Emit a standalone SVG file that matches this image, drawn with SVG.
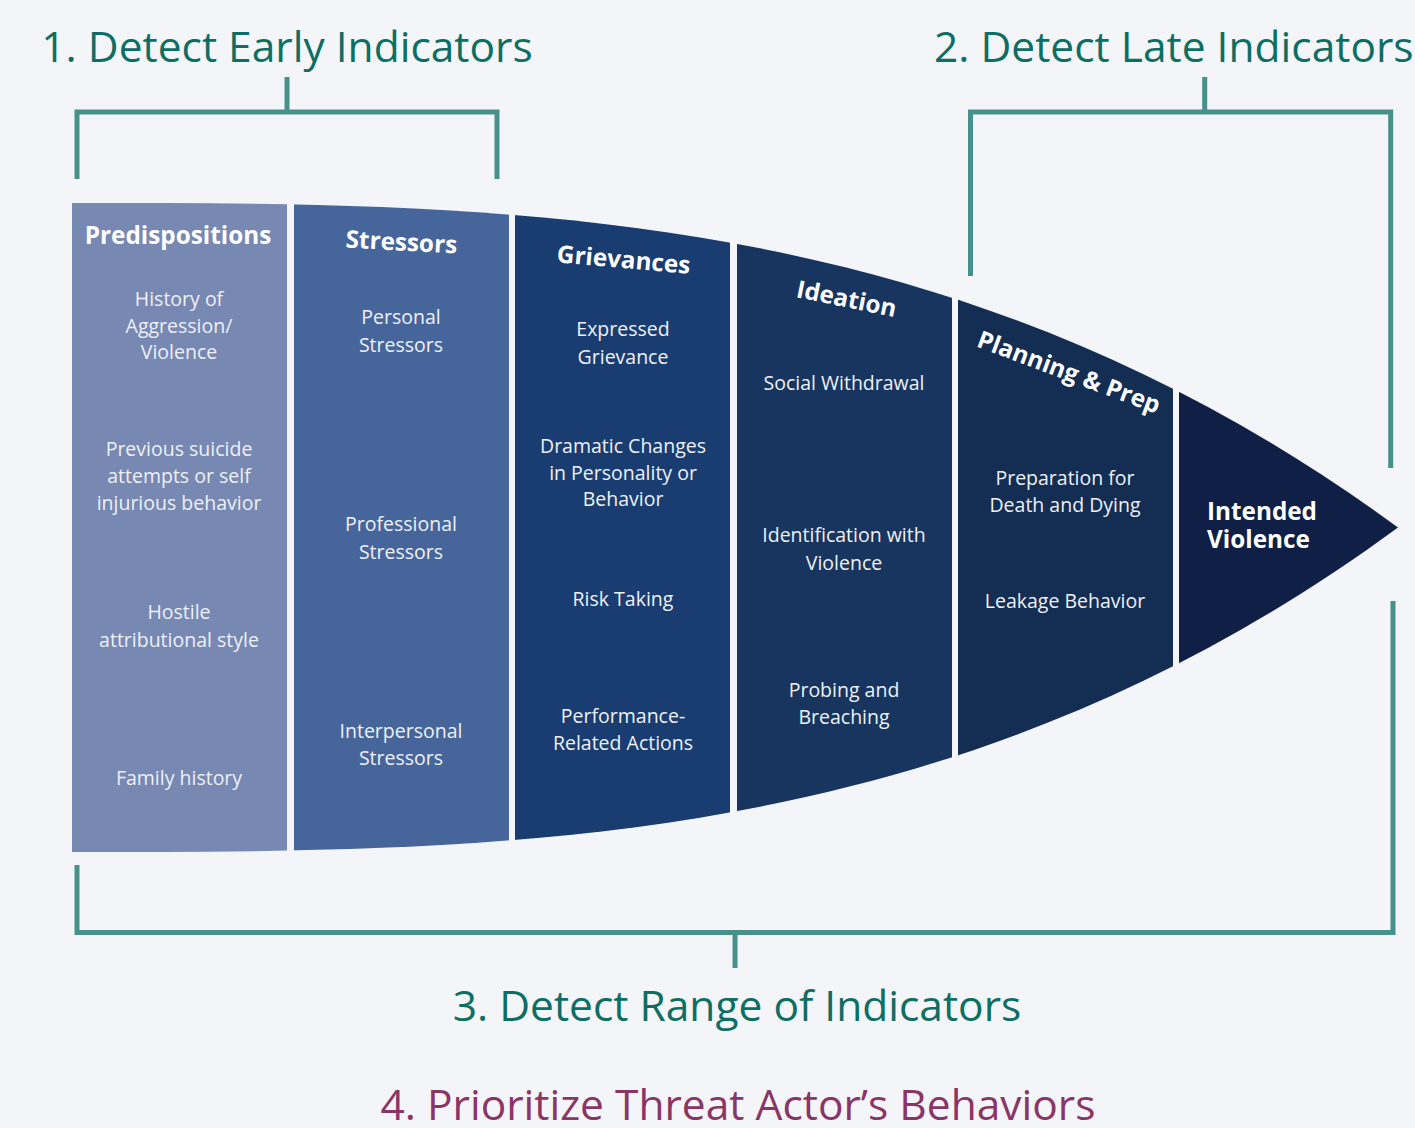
<svg xmlns="http://www.w3.org/2000/svg" width="1415" height="1128" viewBox="0 0 1415 1128">
<style>
.title{font-family:"Open Sans","Liberation Sans",sans-serif;font-size:42.5px;fill:#0e6e63}
.t4{fill:#8b3566}
.hd{font-family:"Open Sans","Liberation Sans",sans-serif;font-size:24.3px;font-weight:bold;fill:#ffffff;text-anchor:middle}
.bd{font-family:"Open Sans","Liberation Sans",sans-serif;font-size:19.5px;fill:#eef1f6;text-anchor:middle}
.br{fill:none;stroke:#46918a;stroke-width:5;stroke-linejoin:miter;stroke-linecap:butt}
</style>
<defs>
<clipPath id="arrow">
<path d="M72,203 C514,203 956,203 1398,527.5 C956,852 514,852 72,852 Z"/>
</clipPath>
</defs>
<rect width="1415" height="1128" fill="#f3f5f9"/>

<g id="titles">
<text class="title" x="287" y="62" text-anchor="middle">1. Detect Early Indicators</text>
<text class="title" x="934" y="62">2. Detect Late Indicators</text>
<text class="title" x="737" y="1021" text-anchor="middle">3. Detect Range of Indicators</text>
<text class="title t4" x="738" y="1120" text-anchor="middle">4. Prioritize Threat Actor’s Behaviors</text>
</g>

<g id="connectors">
<path class="br" d="M77,179 V112 H497 V179"/>
<path class="br" d="M287,77 V112"/>
<path class="br" d="M970.5,276 V112 H1390.7 V468"/>
<path class="br" d="M1204.7,77 V112"/>
<path class="br" d="M77,865 V932.5 H1393 V601"/>
<path class="br" d="M735,932.5 V968"/>
</g>

<g clip-path="url(#arrow)">
<g id="predispositions">
<rect x="72" y="190" width="215" height="680" fill="#7788b3"/>
<text class="hd" x="178" y="244">Predispositions</text>
<text class="bd" x="179" y="306">History of</text>
<text class="bd" x="179" y="333">Aggression/</text>
<text class="bd" x="179" y="359">Violence</text>
<text class="bd" x="179" y="456">Previous suicide</text>
<text class="bd" x="179" y="483">attempts or self</text>
<text class="bd" x="179" y="510">injurious behavior</text>
<text class="bd" x="179" y="619">Hostile</text>
<text class="bd" x="179" y="647">attributional style</text>
<text class="bd" x="179" y="785">Family history</text>
</g>
<g id="stressors">
<rect x="294" y="190" width="215" height="680" fill="#46669b"/>
<text class="hd" x="401" y="250.5" transform="rotate(3 401 250.5)">Stressors</text>
<text class="bd" x="401" y="324">Personal</text>
<text class="bd" x="401" y="352">Stressors</text>
<text class="bd" x="401" y="531">Professional</text>
<text class="bd" x="401" y="559">Stressors</text>
<text class="bd" x="401" y="738">Interpersonal</text>
<text class="bd" x="401" y="765">Stressors</text>
</g>
<g id="grievances">
<rect x="515" y="190" width="215" height="680" fill="#193d70"/>
<text class="hd" x="623" y="268" transform="rotate(5 623 268)">Grievances</text>
<text class="bd" x="623" y="336">Expressed</text>
<text class="bd" x="623" y="364">Grievance</text>
<text class="bd" x="623" y="453">Dramatic Changes</text>
<text class="bd" x="623" y="480">in Personality or</text>
<text class="bd" x="623" y="506">Behavior</text>
<text class="bd" x="623" y="606">Risk Taking</text>
<text class="bd" x="623" y="723">Performance-</text>
<text class="bd" x="623" y="750">Related Actions</text>
</g>
<g id="ideation">
<rect x="737" y="190" width="215" height="680" fill="#17355f"/>
<text class="hd" x="845" y="307" transform="rotate(11.5 845 307)">Ideation</text>
<text class="bd" x="844" y="390">Social Withdrawal</text>
<text class="bd" x="844" y="542">Identification with</text>
<text class="bd" x="844" y="570">Violence</text>
<text class="bd" x="844" y="697">Probing and</text>
<text class="bd" x="844" y="724">Breaching</text>
</g>
<g id="planning">
<rect x="958" y="190" width="215" height="680" fill="#132d53"/>
<text class="hd" x="1066" y="380" transform="rotate(20.5 1066 380)">Planning &amp; Prep</text>
<text class="bd" x="1065" y="485">Preparation for</text>
<text class="bd" x="1065" y="512">Death and Dying</text>
<text class="bd" x="1065" y="608">Leakage Behavior</text>
</g>
<g id="intended-violence">
<rect x="1179" y="190" width="230" height="680" fill="#0f1f45"/>
<text class="hd" x="1207" y="520" style="text-anchor:start">Intended</text>
<text class="hd" x="1207" y="547.5" style="text-anchor:start">Violence</text>
</g>
</g>
</svg>
